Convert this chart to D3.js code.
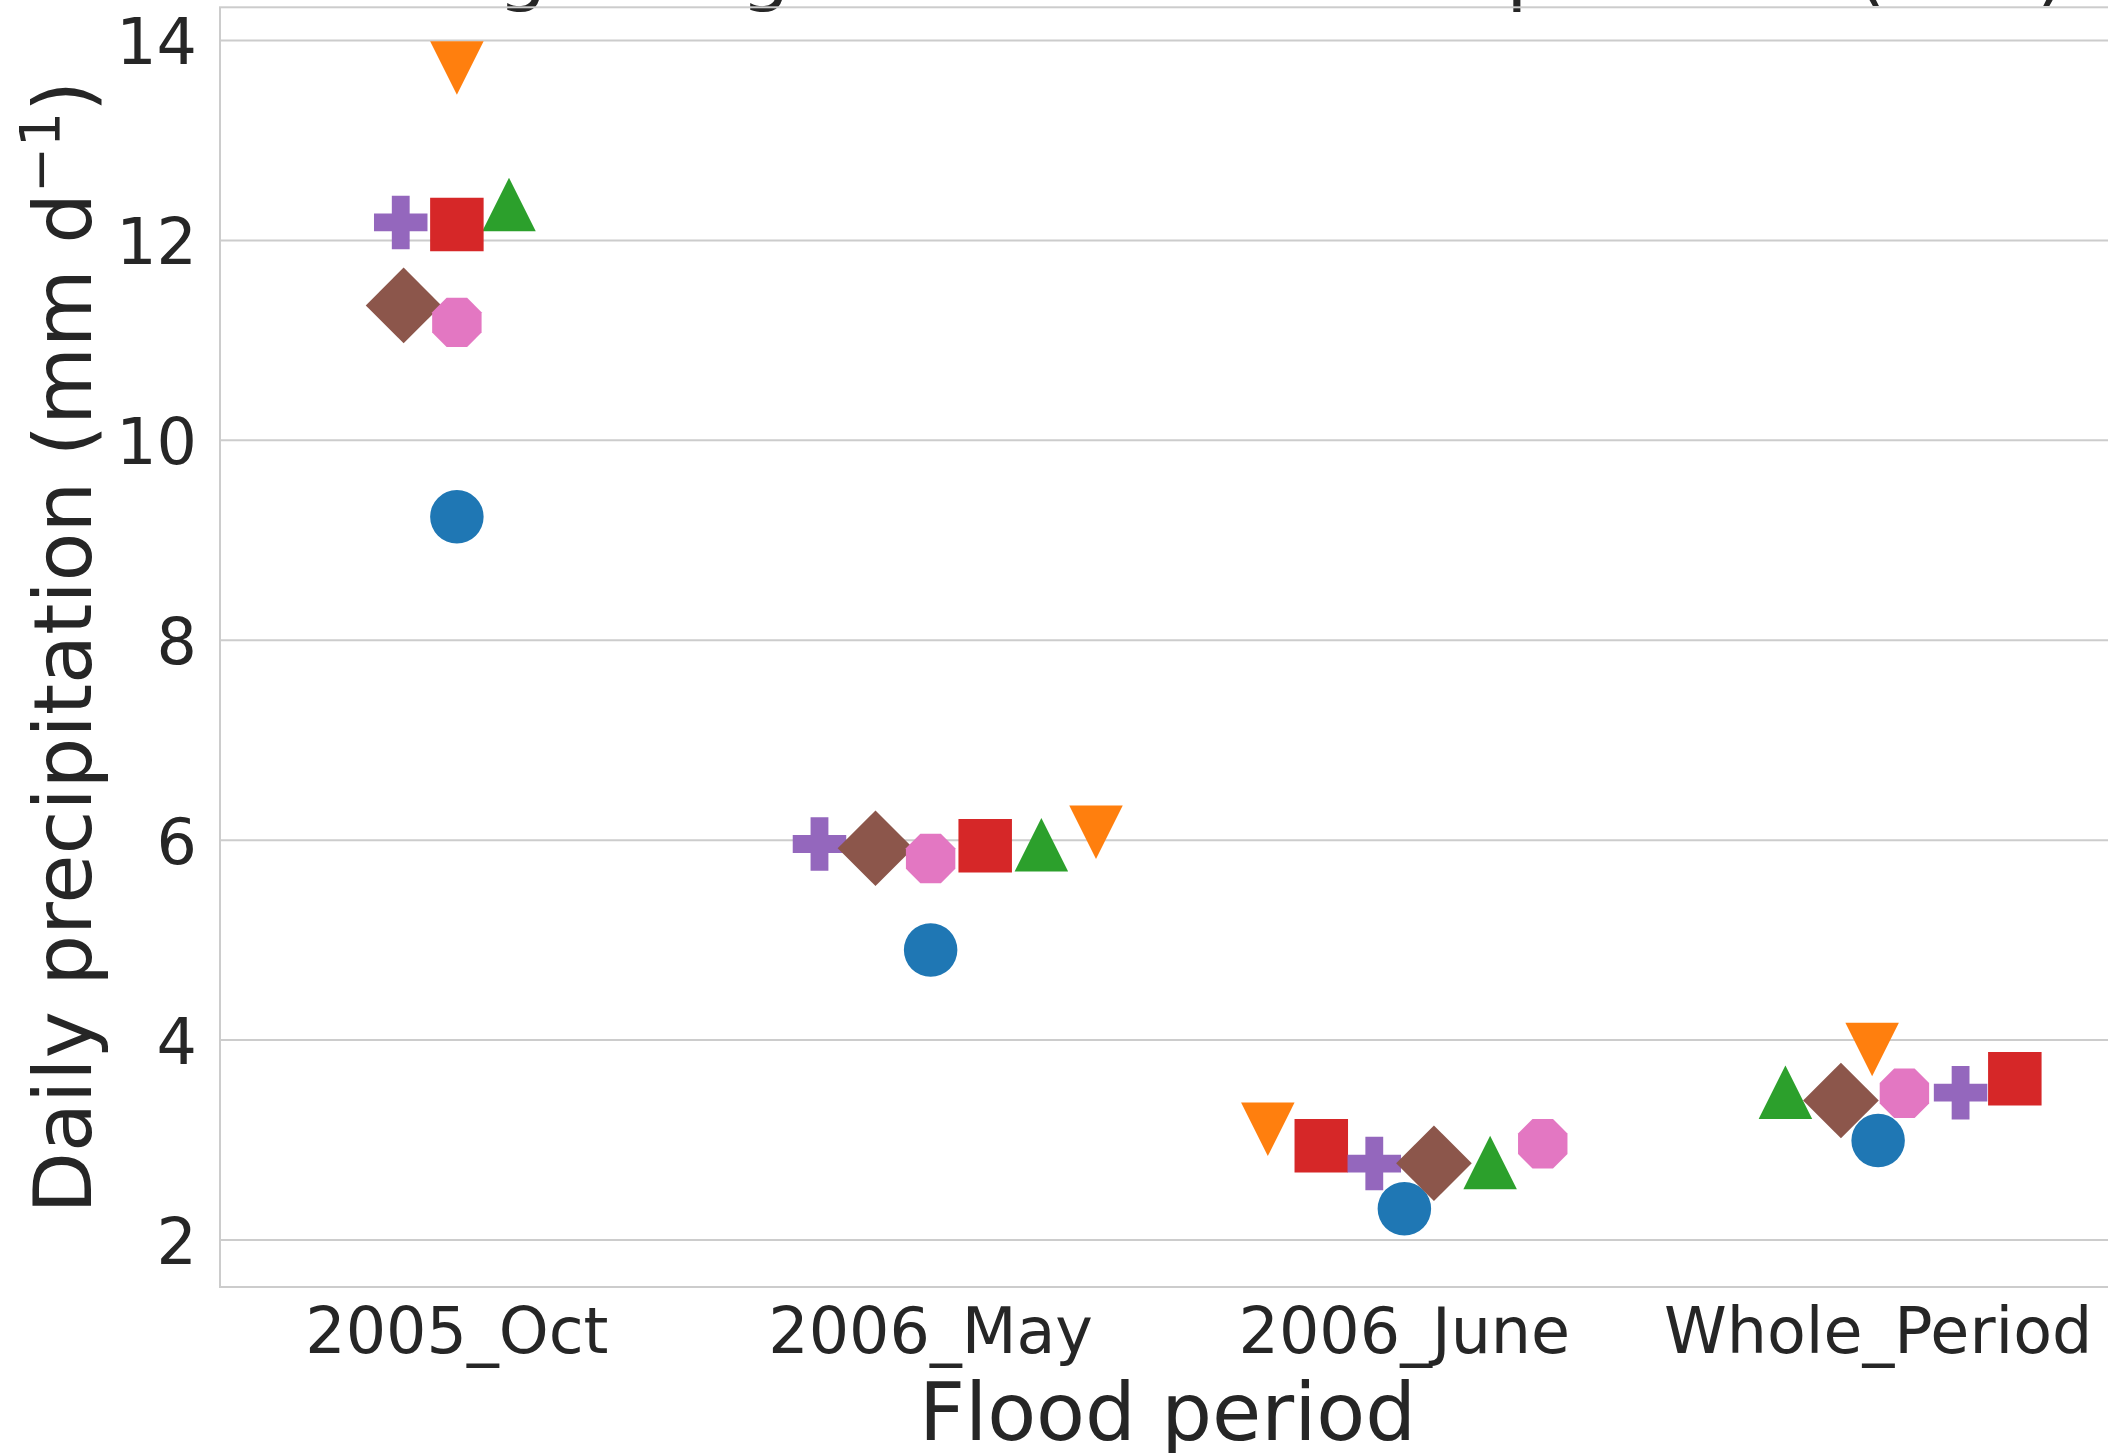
<!DOCTYPE html>
<html>
<head>
<meta charset="utf-8">
<script src="https://cdn.jsdelivr.net/npm/d3@7"></script>
<style>
  body { margin: 0; background: #fff; }
  text { font-family: "DejaVu Sans", sans-serif; fill: #262626; }
</style>
</head>
<body>
<svg id="chart"></svg>
<script>
// categories on the x axis
var categories = ["2005_Oct", "2006_May", "2006_June", "Whole_Period"];

// one array per series, values per category (mm/d)
var seriesNames = ["S1", "S2", "S3", "S4", "S5", "S6", "S7"];
var s1 = [9.235, 4.901, 2.313, 2.995];   // blue circle
var s2 = [13.725, 6.079, 3.107, 3.906];  // orange triangle down
var s3 = [12.36, 5.955, 2.776, 3.478];   // green triangle up
var s4 = [12.16, 5.944, 2.942, 3.613];   // red square
var s5 = [12.18, 5.962, 2.765, 3.474];   // purple plus
var s6 = [11.35, 5.919, 2.768, 3.396];   // brown diamond
var s7 = [11.18, 5.817, 2.963, 3.468];   // pink octagon
var seriesValues = [s1, s2, s3, s4, s5, s6, s7];

var yTicks = [2, 4, 6, 8, 10, 12, 14];

var colors = ["#1f77b4", "#ff7f0e", "#2ca02c", "#d62728", "#9467bd", "#8c564b", "#e377c2"];
var markers = ["circle", "tri_down", "tri_up", "square", "plus", "diamond", "octagon"];

var W = 2108, H = 1453;
var plot = { left: 220, top: 7.3, right: 2115, bottom: 1287 };
var msize = 53.5;

var svg = d3.select("#chart").attr("width", W).attr("height", H);
svg.append("rect").attr("width", W).attr("height", H).attr("fill", "#fff");

var x = d3.scaleLinear().domain([-0.5, categories.length - 0.5]).range([plot.left, plot.right]);
var y = d3.scaleLinear().domain([1.530, 14.332]).range([plot.bottom, plot.top]);

// title (mostly above the visible area)
svg.append("text")
  .attr("x", 275).attr("y", -4)
  .style("font-size", "78px")
  .text("Average Single Station Mean Top 5 Sum (mm)");

// grid lines
svg.append("g").selectAll("line")
  .data(yTicks).enter().append("line")
  .attr("x1", plot.left).attr("x2", plot.right)
  .attr("y1", d => y(d)).attr("y2", d => y(d))
  .attr("stroke", "#cccccc").attr("stroke-width", 2);

// spines
svg.append("rect")
  .attr("x", plot.left).attr("y", plot.top)
  .attr("width", plot.right - plot.left).attr("height", plot.bottom - plot.top)
  .attr("fill", "none").attr("stroke", "#cccccc").attr("stroke-width", 2);

// y tick labels
svg.append("g").selectAll("text")
  .data(yTicks).enter().append("text")
  .attr("x", 197).attr("y", d => y(d) + 24)
  .attr("text-anchor", "end")
  .style("font-size", "63.5px")
  .text(d => d);

// x tick labels
svg.append("g").selectAll("text")
  .data(categories).enter().append("text")
  .attr("x", (d, i) => x(i)).attr("y", 1353)
  .attr("text-anchor", "middle")
  .style("font-size", "63.5px")
  .text(d => d);

// axis labels
svg.append("text")
  .attr("x", (plot.left + plot.right) / 2).attr("y", 1440)
  .attr("text-anchor", "middle")
  .style("font-size", "80px")
  .text("Flood period");

var yl = svg.append("text")
  .attr("transform", "translate(91," + ((plot.top + plot.bottom) / 2) + ") rotate(-90)")
  .attr("text-anchor", "middle")
  .style("font-size", "80px");
yl.append("tspan").text("Daily precipitation (mm d");
yl.append("tspan").attr("dy", -32).style("font-size", "55px").text("\u22121");
yl.append("tspan").attr("dy", 32).text(")");

// marker paths, centred on 0,0
function markerPath(type, s) {
  var h = s / 2;
  switch (type) {
    case "circle":
      return "M" + h + ",0A" + h + "," + h + " 0 1,1 " + (-h) + ",0A" + h + "," + h + " 0 1,1 " + h + ",0Z";
    case "square":
      return "M" + (-h) + "," + (-h) + "H" + h + "V" + h + "H" + (-h) + "Z";
    case "tri_down":
      return "M" + (-h) + "," + (-h) + "L" + h + "," + (-h) + "L0," + h + "Z";
    case "tri_up":
      return "M0," + (-h) + "L" + h + "," + h + "L" + (-h) + "," + h + "Z";
    case "diamond":
      var d = s / Math.SQRT2;
      return "M0," + (-d) + "L" + d + ",0L0," + d + "L" + (-d) + ",0Z";
    case "plus":
      var t = s / 6;
      return "M" + (-t) + "," + (-h) + "H" + t + "V" + (-t) + "H" + h + "V" + t + "H" + t +
        "V" + h + "H" + (-t) + "V" + t + "H" + (-h) + "V" + (-t) + "H" + (-t) + "Z";
    case "octagon":
      var pts = d3.range(8).map(function(k) {
        var a = Math.PI / 8 + k * Math.PI / 4;
        return [h * Math.cos(a), h * Math.sin(a)];
      });
      return "M" + pts.map(p => p[0] + "," + p[1]).join("L") + "Z";
  }
}

// seaborn-like beeswarm, in pixel space
function beeswarm(pts, r) {
  var mid = pts[0].x0;
  var swarm = [];
  pts.forEach(function(p, i) {
    if (i === 0) { p.sx = mid; swarm.push(p); return; }
    var nb = [];
    for (var j = swarm.length - 1; j >= 0; j--) {
      if (p.u - swarm[j].u < 2 * r) nb.unshift(swarm[j]);
      else break;
    }
    var cands = [mid];
    var leftFirst = true;
    nb.forEach(function(q) {
      var dy = p.u - q.u;
      var dx = Math.sqrt(Math.max(4 * r * r - dy * dy, 0)) * 1.05;
      var cl = q.sx - dx, cr = q.sx + dx;
      if (leftFirst) cands.push(cl, cr); else cands.push(cr, cl);
      leftFirst = !leftFirst;
    });
    cands = cands.map((c, k) => ({ c: c, k: k }))
      .sort((a, b) => (Math.abs(a.c - mid) - Math.abs(b.c - mid)) || (a.k - b.k))
      .map(d => d.c);
    var ok = cands.find(function(c) {
      return nb.every(q => (q.sx - c) * (q.sx - c) + (q.u - p.u) * (q.u - p.u) >= 4 * r * r);
    });
    p.sx = ok;
    swarm.push(p);
  });
}

var points = [];
categories.forEach(function(cat, ci) {
  var group = seriesValues.map(function(vals, si) {
    return { series: si, cat: ci, value: vals[ci], x0: x(ci), u: -y(vals[ci]) };
  });
  var sorted = group.slice().sort((a, b) => a.value - b.value);
  beeswarm(sorted, msize / 2);
  points = points.concat(group);
});

svg.append("g").selectAll("path")
  .data(points).enter().append("path")
  .attr("d", d => markerPath(markers[d.series], msize))
  .attr("transform", d => "translate(" + d.sx + "," + y(d.value) + ")")
  .attr("fill", d => colors[d.series]);
</script>
</body>
</html>
